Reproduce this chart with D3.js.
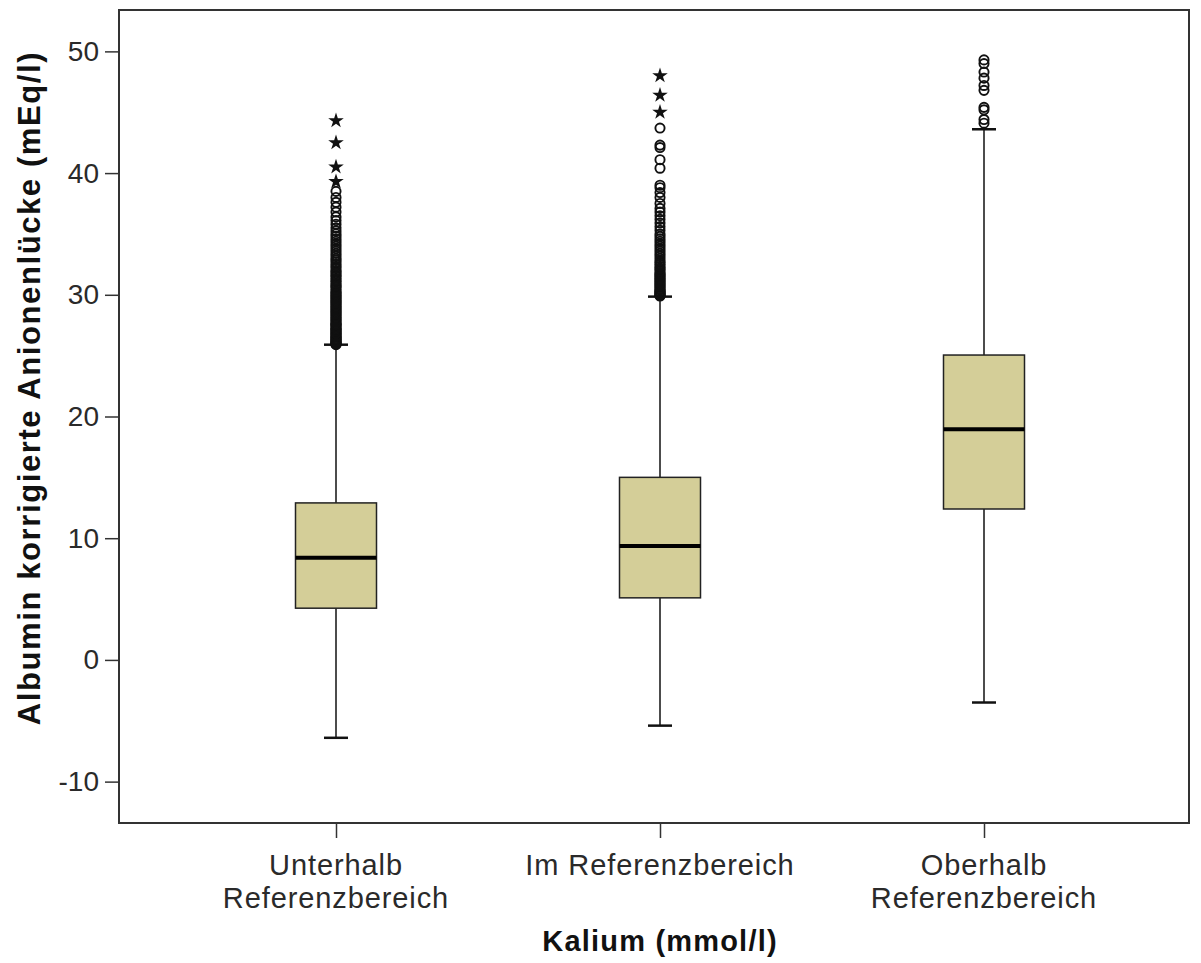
<!DOCTYPE html>
<html lang="de">
<head>
    <meta charset="UTF-8">
    <title>Anionenlücke nach Kalium</title>
    <script src="https://cdnjs.cloudflare.com/ajax/libs/d3/7.8.5/d3.min.js"></script>
    <style>
        body {
            margin: 0;
            background-color: white;
            font-family: "Liberation Sans", Arial, sans-serif;
        }
        .tick text {
            font-size: 28px;
            fill: #2a2a2a;
        }
        .x-label {
            font-size: 29px;
            letter-spacing: 0.9px;
            fill: #2a2a2a;
        }
        .axis-title {
            font-weight: bold;
            fill: #111;
        }
    </style>
</head>
<body>
    <div id="chart"></div>

    <script>
        // Categories and box statistics
        const categories = ["Unterhalb Referenzbereich", "Im Referenzbereich", "Oberhalb Referenzbereich"];
        const lowerWhisker = [-6.4, -5.4, -3.5];
        const q1 = [4.25, 5.1, 12.4];
        const median = [8.4, 9.35, 18.95];
        const q3 = [12.9, 15.0, 25.05];
        const upperWhisker = [25.9, 29.85, 43.6];

        // Outliers (circles) and extremes (stars)
        const outliers = [
            [25.9, 25.95, 26.0, 26.05, 26.1, 26.15, 26.2, 26.3, 26.35, 26.4, 26.5, 26.55, 26.6, 26.7, 26.8,
             26.85, 26.9, 27.0, 27.1, 27.15, 27.2, 27.3, 27.4, 27.5, 27.55, 27.6, 27.7, 27.8, 27.9, 28.0,
             28.1, 28.2, 28.3, 28.4, 28.5, 28.6, 28.7, 28.8, 28.9, 29.0, 29.1, 29.2, 29.3, 29.4, 29.5,
             29.6, 29.7, 29.8, 29.9, 30.0, 30.1, 30.2, 30.3, 30.45, 30.6, 30.7, 30.8, 30.95, 31.1, 31.2,
             31.35, 31.5, 31.6, 31.75, 31.9, 32.0, 32.2, 32.35, 32.5, 32.7, 32.85, 33.0, 33.2, 33.4, 33.6,
             33.8, 34.0, 34.2, 34.4, 34.6, 34.8, 35.0, 35.25, 35.5, 35.8, 36.1, 36.4, 36.8, 37.2, 37.6,
             38.0, 38.5],
            [29.9, 29.95, 30.0, 30.05, 30.1, 30.2, 30.25, 30.3, 30.4, 30.5, 30.6, 30.7, 30.8, 30.9, 31.0,
             31.1, 31.2, 31.3, 31.4, 31.5, 31.6, 31.7, 31.8, 31.95, 32.1, 32.2, 32.35, 32.5, 32.65, 32.8,
             33.0, 33.2, 33.4, 33.6, 33.8, 34.0, 34.2, 34.4, 34.6, 34.8, 35.0, 35.3, 35.6, 35.9, 36.2,
             36.5, 36.8, 37.1, 37.5, 38.0, 38.4, 38.8, 39.0, 40.4, 41.1, 42.1, 42.3, 43.7],
            [44.1, 44.4, 45.2, 45.4, 46.8, 47.2, 47.8, 48.3, 49.0, 49.3]
        ];
        const extremes = [
            [39.3, 40.5, 42.5, 44.3],
            [45.0, 46.4, 48.0],
            []
        ];

        const yTicks = [-10, 0, 10, 20, 30, 40, 50];
        const yLabel = "Albumin korrigierte Anionenlücke (mEq/l)";
        const xLabel = "Kalium (mmol/l)";
        const xTickLines = [["Unterhalb", "Referenzbereich"], ["Im Referenzbereich"], ["Oberhalb", "Referenzbereich"]];

        const width = 1201, height = 963;
        const plot = { left: 119, top: 10, right: 1189, bottom: 823 };
        const boxWidth = 81, capWidth = 24;

        const svg = d3.select("#chart")
            .append("svg")
            .attr("width", width)
            .attr("height", height);

        const x = d3.scalePoint()
            .domain(categories)
            .range([plot.left + 217, plot.right - 205]);

        const y = d3.scaleLinear()
            .domain([-13.4, 53.4])
            .range([plot.bottom, plot.top]);

        // Frame
        svg.append("rect")
            .attr("x", plot.left)
            .attr("y", plot.top)
            .attr("width", plot.right - plot.left)
            .attr("height", plot.bottom - plot.top)
            .attr("fill", "none")
            .attr("stroke", "#333")
            .attr("stroke-width", 2);

        // Y axis
        const yAxis = svg.append("g")
            .attr("transform", `translate(${plot.left},0)`)
            .call(d3.axisLeft(y).tickValues(yTicks).tickSize(14).tickPadding(6).tickFormat(d => String(d)));
        yAxis.select(".domain").remove();
        yAxis.selectAll(".tick line").attr("stroke", "#333").attr("stroke-width", 1.5);

        // X axis
        const xAxis = svg.append("g")
            .attr("transform", `translate(0,${plot.bottom})`)
            .call(d3.axisBottom(x).tickSize(15).tickFormat(""));
        xAxis.select(".domain").remove();
        xAxis.selectAll(".tick line").attr("stroke", "#333").attr("stroke-width", 1.5);

        categories.forEach((c, i) => {
            const t = svg.append("text")
                .attr("class", "x-label")
                .attr("x", x(c))
                .attr("y", 875)
                .attr("text-anchor", "middle");
            xTickLines[i].forEach((line, j) => {
                t.append("tspan")
                    .attr("x", x(c))
                    .attr("dy", j === 0 ? 0 : 33)
                    .text(line);
            });
        });

        // Axis titles
        svg.append("text")
            .attr("class", "axis-title")
            .attr("transform", `translate(40,388) rotate(-90)`)
            .attr("text-anchor", "middle")
            .attr("font-size", 31)
            .attr("letter-spacing", 1.6)
            .text(yLabel);

        svg.append("text")
            .attr("class", "axis-title")
            .attr("x", x(categories[1]))
            .attr("y", 951)
            .attr("text-anchor", "middle")
            .attr("font-size", 29)
            .attr("letter-spacing", 1.2)
            .text(xLabel);

        // Boxes
        const boxes = svg.append("g");
        categories.forEach((c, i) => {
            const cx = x(c);
            const g = boxes.append("g");

            g.append("line")
                .attr("x1", cx).attr("x2", cx)
                .attr("y1", y(lowerWhisker[i])).attr("y2", y(q1[i]))
                .attr("stroke", "#111").attr("stroke-width", 1.5);
            g.append("line")
                .attr("x1", cx).attr("x2", cx)
                .attr("y1", y(q3[i])).attr("y2", y(upperWhisker[i]))
                .attr("stroke", "#111").attr("stroke-width", 1.5);

            [lowerWhisker[i], upperWhisker[i]].forEach(v => {
                g.append("line")
                    .attr("x1", cx - capWidth / 2).attr("x2", cx + capWidth / 2)
                    .attr("y1", y(v)).attr("y2", y(v))
                    .attr("stroke", "#111").attr("stroke-width", 2.5);
            });

            g.append("rect")
                .attr("x", cx - boxWidth / 2)
                .attr("y", y(q3[i]))
                .attr("width", boxWidth)
                .attr("height", y(q1[i]) - y(q3[i]))
                .attr("fill", "#d4ce98")
                .attr("stroke", "#222")
                .attr("stroke-width", 1.5);

            g.append("line")
                .attr("x1", cx - boxWidth / 2).attr("x2", cx + boxWidth / 2)
                .attr("y1", y(median[i])).attr("y2", y(median[i]))
                .attr("stroke", "#000").attr("stroke-width", 4);

            g.selectAll(".outlier")
                .data(outliers[i])
                .enter().append("circle")
                .attr("class", "outlier")
                .attr("cx", cx)
                .attr("cy", d => y(d))
                .attr("r", 4.6)
                .attr("fill", "none")
                .attr("stroke", "#111")
                .attr("stroke-width", 1.9);

            g.selectAll(".extreme")
                .data(extremes[i])
                .enter().append("path")
                .attr("class", "extreme")
                .attr("transform", d => `translate(${cx},${y(d)})`)
                .attr("d", d3.symbol(d3.symbolStar, 75))
                .attr("fill", "#111");
        });
    </script>
</body>
</html>
